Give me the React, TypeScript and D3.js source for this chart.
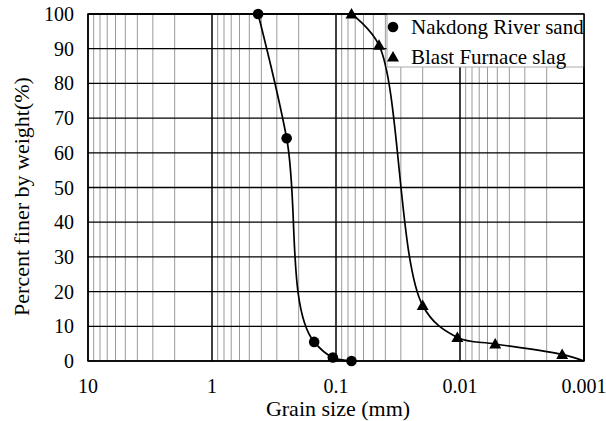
import React from "react";
import * as d3 from "d3";

const sandSize = [0.425, 0.25, 0.15, 0.106, 0.075];
const sandPass = [100, 64.2, 5.5, 1.0, 0];

const slagSize = [0.075, 0.045, 0.02, 0.0105, 0.0052, 0.0015, 0.001];
const slagPass = [100, 91, 16, 6.8, 4.9, 1.9, 0];
const slagMarker = [true, true, true, true, true, true, false];

const xTicks = [10, 1, 0.1, 0.01, 0.001];
const xTickLabels = ["10", "1", "0.1", "0.01", "0.001"];
const yTicks = [0, 10, 20, 30, 40, 50, 60, 70, 80, 90, 100];

const seriesNames = ["Nakdong River sand", "Blast Furnace slag"];

const W = 606, H = 421;
const L = 88, R = 584, T = 14, B = 361;
const FONT = "'Liberation Serif', 'Times New Roman', serif";

export default function App() {
  const x = d3.scaleLog().domain([10, 0.001]).range([L, R]);
  const y = d3.scaleLinear().domain([0, 100]).range([B, T]);

  const minor: number[] = [];
  for (let e = -3; e < 1; e++) {
    for (let m = 2; m <= 9; m++) minor.push(m * Math.pow(10, e));
  }

  const mkLine = (alpha: number) =>
    d3
      .line<[number, number]>()
      .x((d) => x(d[0]))
      .y((d) => y(d[1]))
      .curve(d3.curveCatmullRom.alpha(alpha));

  const sandPts: [number, number][] = sandSize.map((s, i) => [s, sandPass[i]]);
  const slagPts: [number, number][] = slagSize.map((s, i) => [s, slagPass[i]]);

  const tri = (cx: number, cy: number, s = 6) =>
    `M${cx},${cy - s} L${cx + s * 1.0},${cy + s * 0.75} L${cx - s * 1.0},${cy + s * 0.75} Z`;

  return (
    <svg
      width={W}
      height={H}
      style={{ position: "absolute", left: 0, top: 0, background: "#fff" }}
      fontFamily={FONT}
    >
      <rect x={0} y={0} width={W} height={H} fill="#fff" />
      {minor.map((v, i) => (
        <line key={"mn" + i} x1={x(v)} x2={x(v)} y1={T} y2={B} stroke="#9a9a9a" strokeWidth={1} />
      ))}
      {xTicks.map((v, i) => (
        <line key={"mv" + i} x1={x(v)} x2={x(v)} y1={T} y2={B} stroke="#000" strokeWidth={1.5} />
      ))}
      {yTicks.map((v, i) => (
        <line key={"h" + i} x1={L} x2={R} y1={y(v)} y2={y(v)} stroke="#000" strokeWidth={1.3} />
      ))}
      <rect x={L} y={T} width={R - L} height={B - T} fill="none" stroke="#000" strokeWidth={1.5} />

      <path d={mkLine(0.75)(sandPts) || ""} fill="none" stroke="#000" strokeWidth={1.7} />
      <path d={mkLine(0.5)(slagPts) || ""} fill="none" stroke="#000" strokeWidth={1.7} />

      {sandPts.map((p, i) => (
        <circle key={"c" + i} cx={x(p[0])} cy={y(p[1])} r={5.3} fill="#000" />
      ))}
      {slagPts.map((p, i) =>
        slagMarker[i] ? <path key={"t" + i} d={tri(x(p[0]), y(p[1]))} fill="#000" /> : null
      )}

      <rect x={387} y={T} width={R - 387} height={53} fill="#fff" stroke="#aaa" strokeWidth={1} />
      <line x1={L} x2={R} y1={T} y2={T} stroke="#000" strokeWidth={1.5} />
      <line x1={R} x2={R} y1={T} y2={B} stroke="#000" strokeWidth={1.5} />
      <circle cx={393} cy={27} r={5.3} fill="#000" />
      <path d={tri(393, 57)} fill="#000" />
      <text x={411} y={33.5} fontSize={21}>{seriesNames[0]}</text>
      <text x={411} y={63.5} fontSize={21}>{seriesNames[1]}</text>

      {yTicks.map((v, i) => (
        <text key={"yt" + i} x={74} y={y(v) + 7} fontSize={20} textAnchor="end">
          {v}
        </text>
      ))}
      {xTicks.map((v, i) => (
        <text key={"xt" + i} x={x(v)} y={392.5} fontSize={20} textAnchor="middle">
          {xTickLabels[i]}
        </text>
      ))}
      <text x={338} y={416} fontSize={22} textAnchor="middle">
        Grain size (mm)
      </text>
      <text transform={`translate(29,196.5) rotate(-90)`} fontSize={22} textAnchor="middle">
        Percent finer by weight(%)
      </text>
    </svg>
  );
}
